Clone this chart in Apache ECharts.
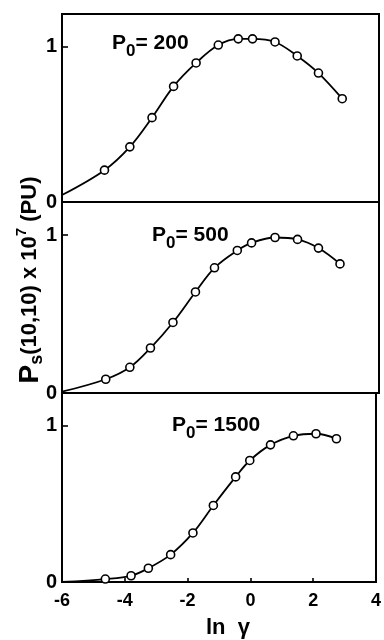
<!DOCTYPE html>
<html>
<head>
<meta charset="utf-8">
<style>
  html, body { margin: 0; padding: 0; background: #fff; }
  #chart { width: 384px; height: 640px; }
</style>
<script src="https://cdn.jsdelivr.net/npm/echarts@6/dist/echarts.min.js"></script>
</head>
<body>
<div id="chart"></div>
<script>
// ln(gamma) positions of the measured points, one list per panel
const lnGamma200 = [-4.66, -3.86, -3.16, -2.48, -1.77, -1.07, -0.44, 0.01, 0.72, 1.42, 2.09, 2.84];
const lnGamma500 = [-4.62, -3.86, -3.21, -2.5, -1.79, -1.19, -0.47, -0.02, 0.72, 1.43, 2.09, 2.77];
const lnGamma1500 = [-4.62, -3.8, -3.25, -2.54, -1.83, -1.18, -0.47, -0.02, 0.64, 1.37, 2.09, 2.74];

// Ps(10,10) x 10^7 (PU) for each initial population P0
const ps200 = [0.205, 0.355, 0.543, 0.744, 0.895, 1.01, 1.05, 1.05, 1.03, 0.94, 0.83, 0.665];
const ps500 = [0.087, 0.163, 0.285, 0.447, 0.64, 0.793, 0.903, 0.951, 0.985, 0.973, 0.918, 0.818];
const ps1500 = [0.019, 0.04, 0.088, 0.175, 0.314, 0.49, 0.673, 0.778, 0.878, 0.936, 0.949, 0.917];

// where each fitted curve enters at the left edge (ln gamma = -6)
const curveStart = [0.045, 0.008, 0.0];

const panelLabels = ['200', '500', '1500'];
const xTicks = { min: -6, max: 4, step: 2 };
const yTicks = { min: 0, max: 1.21, step: 1 };

const FONT = 'Liberation Sans';

const panels = [
  { xs: lnGamma200, ys: ps200 },
  { xs: lnGamma500, ys: ps500 },
  { xs: lnGamma1500, ys: ps1500 }
];

const gridBoxes = [
  { top: 14, height: 188 },
  { top: 202, height: 191 },
  { top: 393, height: 189 }
];

const grids = gridBoxes.map(b => ({
  left: 62, width: 317, top: b.top, height: b.height,
  show: true, borderColor: '#000', borderWidth: 2, backgroundColor: 'transparent'
}));

const xAxes = panels.map((p, i) => {
  const last = i === panels.length - 1;
  return {
    type: 'value', gridIndex: i,
    min: xTicks.min, max: xTicks.max, interval: xTicks.step,
    axisLine: { show: true, onZero: false, lineStyle: { color: '#000', width: 2 } },
    axisTick: { show: last, inside: true, length: 4, lineStyle: { color: '#000', width: 1.6 } },
    axisLabel: {
      show: last, margin: 10, color: '#000',
      fontFamily: FONT, fontSize: 18, fontWeight: 'bold'
    },
    splitLine: { show: false }
  };
});

const yAxes = panels.map((p, i) => ({
  type: 'value', gridIndex: i,
  min: yTicks.min, max: yTicks.max, interval: yTicks.step,
  axisLine: { show: true, onZero: false, lineStyle: { color: '#000', width: 2 } },
  axisTick: { show: true, inside: true, length: 6, lineStyle: { color: '#000', width: 1.6 } },
  axisLabel: {
    margin: 5, color: '#000', fontFamily: FONT, fontSize: 20, fontWeight: 'bold',
    showMaxLabel: false,
    formatter: v => (Number.isInteger(v) ? String(v) : '')
  },
  splitLine: { show: false }
}));

const series = panels.map((p, i) => {
  const pts = p.xs.map((x, k) => [x, p.ys[k]]);
  const data = [{ value: [xTicks.min, curveStart[i]], symbol: 'none' }].concat(pts);
  return {
    type: 'line', xAxisIndex: i, yAxisIndex: i,
    data: data, smooth: 0.35,
    symbol: 'circle', symbolSize: 8, showAllSymbol: true,
    lineStyle: { color: '#000', width: 1.8 },
    itemStyle: { color: '#fff', borderColor: '#000', borderWidth: 1.6 },
    emphasis: { disabled: true },
    z: 3
  };
});

// "P" + lowered "0" + "= value"
const subRich = {
  m: { fontFamily: FONT, fontSize: 21, fontWeight: 'bold', lineHeight: 24, verticalAlign: 'top', color: '#000' },
  b: { fontFamily: FONT, fontSize: 17, fontWeight: 'bold', lineHeight: 17, padding: [10, 0, 0, 0], verticalAlign: 'top', color: '#000' }
};

const labelPos = [[112, 33], [152, 225], [172, 415]];
const panelTexts = panelLabels.map((v, i) => ({
  type: 'text', x: labelPos[i][0], y: labelPos[i][1], z: 10,
  style: {
    text: '{m|P}{b|0}{m|= ' + v + '}',
    rich: subRich, align: 'left', verticalAlign: 'top'
  }
}));

const yTitle = {
  type: 'text', x: 30, y: 280, rotation: Math.PI / 2, z: 10,
  style: {
    text: '{p|P}{s|s}{m|(10,10) x 10}{t|7}{m| (PU)}',
    align: 'center', verticalAlign: 'middle',
    rich: {
      p: { fontFamily: FONT, fontSize: 28, fontWeight: 'bold', lineHeight: 32, verticalAlign: 'middle', color: '#000' },
      s: { fontFamily: FONT, fontSize: 18, fontWeight: 'bold', lineHeight: 18, verticalAlign: 'bottom', color: '#000' },
      m: { fontFamily: FONT, fontSize: 22, fontWeight: 'bold', lineHeight: 32, verticalAlign: 'middle', color: '#000' },
      t: { fontFamily: FONT, fontSize: 15, fontWeight: 'bold', lineHeight: 15, verticalAlign: 'top', color: '#000' }
    }
  }
};

const xTitle = {
  type: 'text', x: 228, y: 628, z: 10,
  style: {
    text: 'ln  γ', align: 'center', verticalAlign: 'middle',
    fontFamily: FONT, fontSize: 22, fontWeight: 'bold', fill: '#000'
  }
};

const chart = echarts.init(document.getElementById('chart'), null, { renderer: 'canvas' });
chart.setOption({
  backgroundColor: '#fff',
  animation: false,
  grid: grids,
  xAxis: xAxes,
  yAxis: yAxes,
  series: series,
  graphic: panelTexts.concat([yTitle, xTitle])
});
</script>
</body>
</html>
